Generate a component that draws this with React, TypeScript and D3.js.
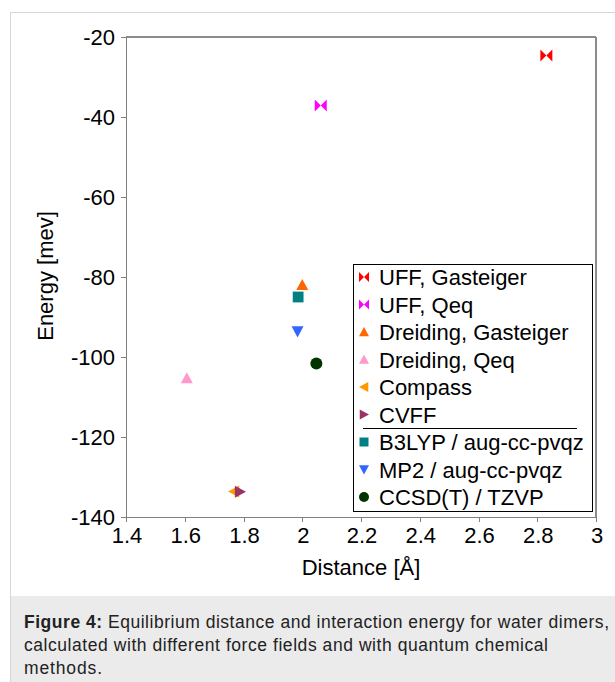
import React from 'react';
import * as d3 from 'd3';

// values
const methods = [
  'UFF, Gasteiger',
  'UFF, Qeq',
  'Dreiding, Gasteiger',
  'Dreiding, Qeq',
  'Compass',
  'CVFF',
  'B3LYP / aug-cc-pvqz',
  'MP2 / aug-cc-pvqz',
  'CCSD(T) / TZVP',
];
const distances = [2.831, 2.063, 2.0, 1.607, 1.768, 1.788, 1.986, 1.984, 2.048];
const energies = [-24.6, -37.1, -82.0, -105.3, -133.6, -133.7, -85.0, -93.6, -101.6];
const markerColors = ['#ff0000', '#ff00ff', '#ff6600', '#ff99cc', '#ff9900', '#993366', '#008080', '#3366ff', '#003300'];
const markerShapes = ['bowtie', 'bowtie', 'up', 'up', 'left', 'right', 'square', 'down', 'circle'];

const xTicks = [1.4, 1.6, 1.8, 2, 2.2, 2.4, 2.6, 2.8, 3];
const yTicks = [-140, -120, -100, -80, -60, -40, -20];

const captionLines = [
  'Equilibrium distance and interaction energy for water dimers,',
  'calculated with different force fields and with quantum chemical',
  'methods.',
];
// widths the caption lines take in the figure
const captionWidths = [585, 524, 78];

const FONT = 'Arial, "Liberation Sans", sans-serif';

function markerPath(shape: string, s: number): string {
  const h = s / 2;
  switch (shape) {
    case 'bowtie':
      return `M${-h},${-h}L0,0L${-h},${h}ZM${h},${-h}L0,0L${h},${h}Z`;
    case 'up':
      return `M0,${-h}L${h},${h * 0.85}L${-h},${h * 0.85}Z`;
    case 'down':
      return `M0,${h}L${h},${-h * 0.85}L${-h},${-h * 0.85}Z`;
    case 'left':
      return `M${-h},0L${h * 0.85},${-h}L${h * 0.85},${h}Z`;
    case 'right':
      return `M${h},0L${-h * 0.85},${-h}L${-h * 0.85},${h}Z`;
    case 'square':
      return `M${-h * 0.9},${-h * 0.9}h${s * 0.9}v${s * 0.9}h${-s * 0.9}Z`;
    default:
      return d3.symbol(d3.symbolCircle, Math.PI * h * h)() || '';
  }
}

export default function App() {
  const left = 126, right = 596, top = 37, bottom = 517;
  const x = d3.scaleLinear().domain([1.4, 3]).range([left, right]);
  const y = d3.scaleLinear().domain([-140, -20]).range([bottom, top]);

  const legX = 353, legY = 264, legW = 239, legH = 247;
  const rowStep = 27.5;
  const firstRow = 277;

  return (
    <svg width={615} height={682} style={{ position: 'absolute', left: 0, top: 0 }} fontFamily={FONT}>
      <rect x={0} y={0} width={615} height={682} fill="#fff" />
      {/* frame */}
      <line x1={10} x2={615} y1={12.5} y2={12.5} stroke="#d6d6d6" />
      <line x1={10.5} x2={10.5} y1={12} y2={682} stroke="#d6d6d6" />
      <rect x={11} y={596} width={604} height={86} fill="#ebebeb" />

      {/* plot area border */}
      <line x1={left} x2={right} y1={top} y2={top} stroke="#8c8c8c" strokeWidth={2} />
      <line x1={right} x2={right} y1={top} y2={bottom} stroke="#8c8c8c" strokeWidth={2} />

      {/* axes */}
      <line x1={left + 0.5} x2={left + 0.5} y1={top} y2={bottom} stroke="#808080" />
      <line x1={left} x2={right} y1={bottom + 0.5} y2={bottom + 0.5} stroke="#808080" />
      {yTicks.map(t => (
        <g key={'y' + t}>
          <line x1={left - 5} x2={left} y1={Math.round(y(t)) + 0.5} y2={Math.round(y(t)) + 0.5} stroke="#808080" />
          <text x={115} y={y(t) + 8} textAnchor="end" fontSize={22}>{t}</text>
        </g>
      ))}
      {xTicks.map(t => (
        <g key={'x' + t}>
          <line x1={Math.round(x(t)) + 0.5} x2={Math.round(x(t)) + 0.5} y1={bottom} y2={bottom + 5} stroke="#808080" />
          <text x={x(t) + 1} y={543} textAnchor="middle" fontSize={22}>{String(t)}</text>
        </g>
      ))}
      <text x={361} y={575} textAnchor="middle" fontSize={22}>Distance [Å]</text>
      <text transform="translate(53,276) rotate(-90)" textAnchor="middle" fontSize={22}>Energy [mev]</text>

      {/* points */}
      {methods.map((m, i) => (
        <path
          key={m}
          d={markerPath(markerShapes[i], 12)}
          transform={`translate(${x(distances[i])},${y(energies[i])})`}
          fill={markerColors[i]}
        />
      ))}

      {/* legend */}
      <rect x={legX + 0.5} y={legY + 0.5} width={legW} height={legH} fill="#fff" stroke="#000" />
      <line x1={363} x2={577} y1={428.5} y2={428.5} stroke="#000" />
      {methods.map((m, i) => {
        const cy = firstRow + i * rowStep;
        return (
          <g key={'leg' + m}>
            <path d={markerPath(markerShapes[i], 10)} transform={`translate(364,${cy})`} fill={markerColors[i]} />
            <text x={379} y={cy + 8} fontSize={22}>{m}</text>
          </g>
        );
      })}

      {/* caption */}
      {captionLines.map((l, i) => (
        <text
          key={'c' + i}
          x={24}
          y={628 + i * 23}
          fontSize={17.5}
          fill="#222"
          textLength={captionWidths[i]}
          lengthAdjust="spacing"
        >
          {i === 0 ? <tspan fontWeight="bold">Figure 4: </tspan> : null}
          {l}
        </text>
      ))}
    </svg>
  );
}
